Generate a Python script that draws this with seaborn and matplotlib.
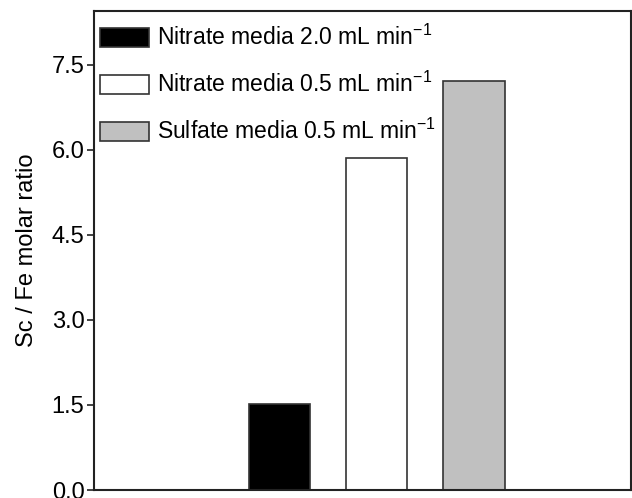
import matplotlib
matplotlib.use("Agg")
import numpy as np
import seaborn as sns
from matplotlib import pyplot as plt

# values
conditions = ["Nitrate media 2.0 mL min$^{-1}$",
              "Nitrate media 0.5 mL min$^{-1}$",
              "Sulfate media 0.5 mL min$^{-1}$"]
sc_fe_ratio = [1.51, 5.85, 7.22]
bar_colors = ["#000000", "#ffffff", "#c0c0c0"]

sns.set_theme(style="ticks")
plt.rcParams["font.family"] = ["Liberation Sans", "DejaVu Sans"]
plt.rcParams["mathtext.fontset"] = "custom"
plt.rcParams["mathtext.rm"] = "Liberation Sans"
plt.rcParams["mathtext.it"] = "Liberation Sans"
plt.rcParams["text.color"] = "black"
plt.rcParams["axes.labelcolor"] = "black"

fig = plt.figure(figsize=(6.32, 4.98), dpi=100)
ax = fig.add_axes([0.149, 0.016, 0.849, 0.962])

sns.barplot(x=conditions, y=sc_fe_ratio, hue=conditions, palette=bar_colors,
            width=0.63, edgecolor="#333333", linewidth=1.2, dodge=False,
            legend=True, ax=ax)

ax.set_xlim(-1.9, 3.61)
ax.set_ylim(0, 8.45)
ax.set_yticks(np.arange(0, 7.6, 1.5))
ax.set_yticklabels([f"{v:.1f}" for v in np.arange(0, 7.6, 1.5)], fontsize=17)
ax.set_xticks([])
ax.set_xlabel("")
ax.set_ylabel("Sc / Fe molar ratio", fontsize=17, labelpad=10)
ax.tick_params(axis="y", direction="out", length=5, width=1.2, pad=2,
               color="#222222", labelcolor="black")

for side in ["left", "right", "top", "bottom"]:
    ax.spines[side].set_visible(True)
    ax.spines[side].set_linewidth(1.5)
    ax.spines[side].set_color("#222222")

handles, labels = ax.get_legend_handles_labels()
ax.legend(handles, labels, loc="upper left", bbox_to_anchor=(0.0, 0.983),
          frameon=False, fontsize=16.5,
          handlelength=2.15, handleheight=0.9, handletextpad=0.35,
          labelspacing=0.95, borderaxespad=0.05, borderpad=0.2)

fig.savefig("out.png", dpi=100)
